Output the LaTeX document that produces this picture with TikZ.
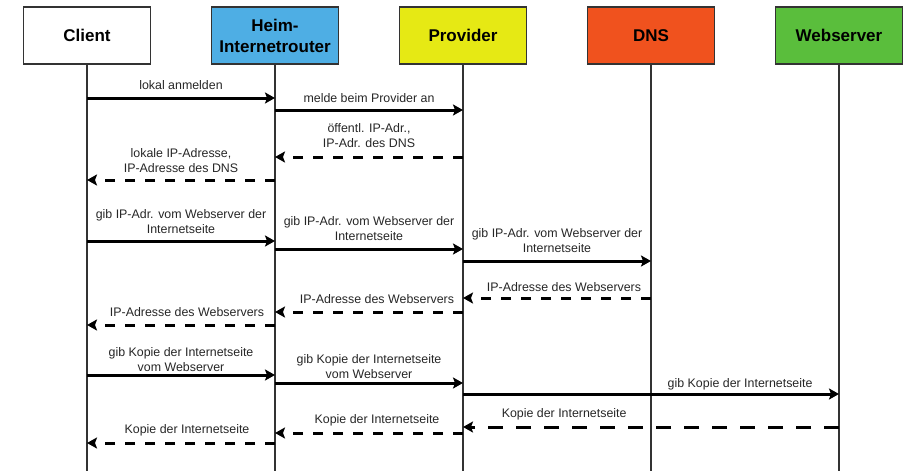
\documentclass[tikz,border=0pt]{standalone}
\usepackage{fontspec}
\setmainfont{Liberation Sans}
\usepackage{xcolor}
\usetikzlibrary{positioning,arrows.meta}

\definecolor{routerblue}{RGB}{78,174,228}
\definecolor{provideryellow}{RGB}{230,233,20}
\definecolor{dnsorange}{RGB}{240,82,30}
\definecolor{servergreen}{RGB}{90,190,60}

\begin{document}
\begin{tikzpicture}[
  x=1pt, y=-1pt,
  actor/.style={
    rectangle, draw=black!80, line width=1.2pt,
    minimum width=127pt, minimum height=57pt,
    align=center, inner sep=2pt,
    font=\fontsize{17}{21}\selectfont\bfseries
  },
  lifeline/.style={line width=1.2pt, black!80},
  call/.style={-{Stealth[length=10pt,width=11pt,inset=2pt]}, line width=3pt},
  reply/.style={call, dash pattern=on 10pt off 10pt},
  msg/.style={font=\fontsize{12.4}{15}\selectfont, text=black!85, align=center, inner sep=0pt},
  node distance=59.8pt
]
\useasboundingbox (0,0) rectangle (904,471);

% Actors
\node[actor, fill=white] (client) at (87,35.5) {Client};
\node[actor, fill=routerblue, right=of client] (router) {Heim-\\Internetrouter};
\node[actor, fill=provideryellow, right=of router] (provider) {Provider};
\node[actor, fill=dnsorange, right=of provider] (dns) {DNS};
\node[actor, fill=servergreen, right=of dns] (server) {Webserver};

% Lifelines
\coordinate (bottom) at (0,471);
\draw[lifeline] (client.south) -- (client |- bottom);
\draw[lifeline] (router.south) -- (router |- bottom);
\draw[lifeline] (provider.south) -- (provider |- bottom);
\draw[lifeline] (dns.south) -- (dns |- bottom);
\draw[lifeline] (server.south) -- (server |- bottom);

% Message rows
\coordinate (m1) at (0,98);   \coordinate (m2) at (0,110);
\coordinate (m3) at (0,157);  \coordinate (m4) at (0,180);
\coordinate (m5) at (0,241);  \coordinate (m6) at (0,249);
\coordinate (m7) at (0,261);  \coordinate (m8) at (0,298);
\coordinate (m9) at (0,312);  \coordinate (m10) at (0,325);
\coordinate (m11) at (0,375); \coordinate (m12) at (0,383);
\coordinate (m13) at (0,394); \coordinate (m14) at (0,427);
\coordinate (m15) at (0,433); \coordinate (m16) at (0,443);

% Log in
\draw[call] (client |- m1) -- node[msg, above=7pt]{lokal anmelden} (router |- m1);
\draw[call] (router |- m2) -- node[msg, above=6pt]{melde beim Provider an} (provider |- m2);
\draw[reply] (provider |- m3) -- node[msg, above=8pt]{öffentl. IP-Adr.,\\IP-Adr. des DNS} (router |- m3);
\draw[reply] (router |- m4) -- node[msg, above=6pt]{lokale IP-Adresse,\\IP-Adresse des DNS} (client |- m4);

% Name lookup
\draw[call] (client |- m5) -- node[msg, above=6pt]{gib IP-Adr. vom Webserver der\\Internetseite} (router |- m5);
\draw[call] (router |- m6) -- node[msg, above=7pt]{gib IP-Adr. vom Webserver der\\Internetseite} (provider |- m6);
\draw[call] (provider |- m7) -- node[msg, above=7pt]{gib IP-Adr. vom Webserver der\\Internetseite} (dns |- m7);
\draw[reply] (dns |- m8) -- node[msg, above=5pt, xshift=7pt]{IP-Adresse des Webservers} (provider |- m8);
\draw[reply] (provider |- m9) -- node[msg, above=7pt, xshift=8pt]{IP-Adresse des Webservers} (router |- m9);
\draw[reply] (router |- m10) -- node[msg, above=7pt, xshift=6pt]{IP-Adresse des Webservers} (client |- m10);

% Page request
\draw[call] (client |- m11) -- node[msg, above=1.5pt]{gib Kopie der Internetseite\\vom Webserver} (router |- m11);
\draw[call] (router |- m12) -- node[msg, above=2.5pt]{gib Kopie der Internetseite\\vom Webserver} (provider |- m12);
\draw[call] (provider |- m13) -- node[msg, above=2.5pt, pos=0.737]{gib Kopie der Internetseite} (server |- m13);
\draw[reply, dash pattern=on 15pt off 13pt] (server |- m14) -- node[msg, above=5.5pt, pos=0.731]{Kopie der Internetseite} (provider |- m14);
\draw[reply] (provider |- m15) -- node[msg, above=5.5pt, xshift=8pt]{Kopie der Internetseite} (router |- m15);
\draw[reply] (router |- m16) -- node[msg, above=5.5pt, xshift=6pt]{Kopie der Internetseite} (client |- m16);

\end{tikzpicture}
\end{document}
